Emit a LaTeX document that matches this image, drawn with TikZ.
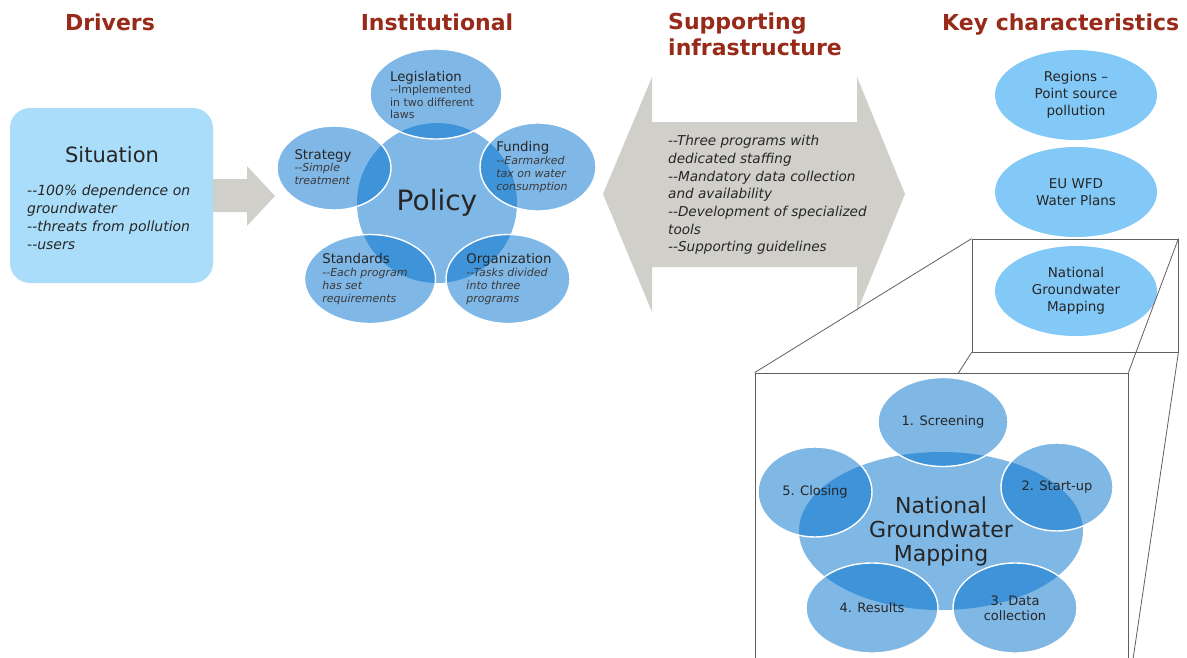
\documentclass[tikz,border=0pt]{standalone}
\usepackage{fontspec}
\setmainfont{DejaVu Sans}
\usetikzlibrary{shapes.geometric, positioning}

\definecolor{hdred}{RGB}{152,42,26}
\definecolor{txtdark}{RGB}{38,38,38}
\definecolor{txtsub}{RGB}{58,58,58}
\definecolor{vennblue}{RGB}{0,112,205}
\definecolor{keyblue}{RGB}{131,201,247}
\definecolor{sitblue}{RGB}{170,221,250}
\definecolor{arrgray}{RGB}{209,207,201}
\definecolor{framegray}{RGB}{95,95,95}

\newcommand{\venntitle}[1]{{\upshape\fontsize{13.3}{15}\selectfont\color{txtdark}#1}}
\newcommand{\dd}{-{}-}

\begin{document}
\begin{tikzpicture}[
  x=1pt, y=-1pt,
  header/.style={font=\fontsize{22}{26}\selectfont\bfseries, text=hdred, inner sep=0pt},
  sitbox/.style={rectangle, rounded corners=20pt, fill=sitblue, minimum width=203pt,
                 minimum height=175pt},
  sitlist/.style={font=\fontsize{14}{18}\selectfont\itshape, text=txtdark, align=left,
                  inner sep=0pt},
  infotext/.style={font=\fontsize{13.6}{17.7}\selectfont\itshape, text=txtdark,
                   align=left, inner sep=0pt},
  hub/.style={ellipse, fill=vennblue, fill opacity=0.5, text opacity=1, text=txtdark,
              inner sep=0pt, align=center},
  sat/.style={ellipse, fill=vennblue, fill opacity=0.5, draw=white, line width=1.4pt,
              inner sep=0pt},
  sattext/.style={text=txtsub, inner sep=0pt, align=left,
                  font=\fontsize{11}{12.8}\selectfont\itshape},
  stepell/.style={ellipse, fill=vennblue, fill opacity=0.5, text opacity=1, draw=white,
                  line width=1.4pt, text=txtdark, inner sep=0pt, align=center,
                  font=\fontsize{13}{15}\selectfont},
  keyell/.style={ellipse, fill=keyblue, minimum width=162pt, minimum height=90pt,
                 inner sep=0pt, align=center, text=txtdark,
                 font=\fontsize{13.5}{17}\selectfont},
  frame/.style={draw=framegray, line width=0.8pt},
  blockarr/.style={fill=arrgray}
]
\useasboundingbox (0,0) rectangle (1187,657);

\node[header, anchor=base] (hdrivers) at (110,30) {Drivers};
\node[header, anchor=base] (hinst) at (437,30) {Institutional};
\node[header, anchor=north west, align=left] (hsupp) at (668,13) {Supporting\\infrastructure};
\node[header, anchor=base west] (hkey) at (942,30) {Key characteristics};

\node[sitbox] (sit) at (111.5,195.5) {};
\node[font=\fontsize{21}{25}\selectfont, text=txtdark] (sittitle) at (112,155) {Situation};
\node[sitlist, anchor=north west] (sitlist) at (27,185)
  {\dd100\% dependence on\\groundwater\\\dd threats from pollution\\\dd users};

\fill[blockarr] (sit.east |- 0,179) -- (247,179) -- (247,166) -- (275,196) -- (247,226)
  -- (247,212) -- (sit.east |- 0,212) -- cycle;

\node[hub, minimum width=160pt, minimum height=160pt, font=\fontsize{28}{30}\selectfont]
  (policy) at (437,203) {Policy};
\node[sat, minimum width=132pt, minimum height=90pt] (legis) at (436,94) {};
\node[sattext, font=\fontsize{11}{12.5}\selectfont] (legistext) at (432,95)
  {\venntitle{Legislation}\\\dd Implemented\\in two different\\laws};
\node[sat, minimum width=114pt, minimum height=84pt] (strat) at (334,168) {};
\node[sattext] (strattext) at (323,167) {\venntitle{Strategy}\\\dd Simple\\treatment};
\node[sat, minimum width=116pt, minimum height=88pt] (fund) at (538,167) {};
\node[sattext] (fundtext) at (532,167)
  {\venntitle{Funding}\\\dd Earmarked\\tax on water\\consumption};
\node[sat, minimum width=131pt, minimum height=89pt] (stand) at (370,279) {};
\node[sattext] (standtext) at (365,279)
  {\venntitle{Standards}\\\dd Each program\\has set\\requirements};
\node[sat, minimum width=124pt, minimum height=89pt] (organ) at (508,279) {};
\node[sattext] (organtext) at (509,279)
  {\venntitle{Organization}\\\dd Tasks divided\\into three\\programs};

\fill[blockarr] (603,194) -- (652,77) -- (652,122) -- (857,122) -- (857,77) -- (905,194)
  -- (857,312) -- (857,267) -- (652,267) -- (652,312) -- cycle;
\node[infotext, anchor=west] (infra) at (668,195)
  {\dd Three programs with\\dedicated staffing\\\dd Mandatory data collection\\
   and availability\\\dd Development of specialized\\tools\\\dd Supporting guidelines};

\node[keyell] (kregion) at (1076,95) {Regions –\\Point source\\pollution};
\node[keyell] (kwfd) at (1076,192) {EU WFD\\Water Plans};
\node[keyell] (kmap) at (1076,291) {National\\Groundwater\\Mapping};

\node[frame, minimum width=206pt, minimum height=113pt, inner sep=0pt]
  (zoomsrc) at (1075,295.5) {};
\node[frame, minimum width=373pt, minimum height=317pt, inner sep=0pt]
  (zoomdst) at (941.5,531.5) {};
\draw[frame] (zoomsrc.north west) -- (zoomdst.north west);
\draw[frame] (zoomsrc.north east) -- (zoomdst.north east);
\draw[frame] (zoomsrc.south east) -- (zoomdst.south east);
\draw[frame] (zoomsrc.south west) -- (zoomdst.south west);
\node[frame, fill=white, minimum width=373pt, minimum height=317pt, inner sep=0pt]
  at (zoomdst) {};

\node[hub, minimum width=284pt, minimum height=158pt, font=\fontsize{22}{24}\selectfont]
  (ngm) at (941,531) {National\\Groundwater\\Mapping};
\node[stepell, minimum width=130pt, minimum height=89pt] (s1) at (943,422) {1. Screening};
\node[stepell, minimum width=112pt, minimum height=88pt] (s2) at (1057,487) {2. Start-up};
\node[stepell, minimum width=124pt, minimum height=90pt] (s3) at (1015,608) {3. Data\\collection};
\node[stepell, minimum width=132pt, minimum height=90pt] (s4) at (872,608) {4. Results};
\node[stepell, minimum width=114pt, minimum height=90pt] (s5) at (815,492) {5. Closing};

\end{tikzpicture}
\end{document}
